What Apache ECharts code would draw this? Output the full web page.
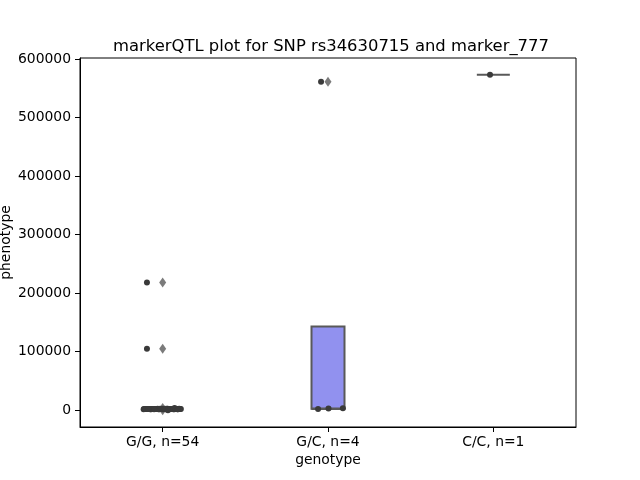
<!DOCTYPE html>
<html>
<head>
<meta charset="utf-8">
<script src="https://cdn.jsdelivr.net/npm/echarts@6/dist/echarts.min.js"></script>
<style>html,body{margin:0;padding:0;background:#fff}#c{width:640px;height:480px}</style>
</head>
<body>
<div id="c"></div>
<script>
const titleText = 'markerQTL plot for SNP rs34630715 and marker_777';
const categories = ['G/G, n=54', 'G/C, n=4', 'C/C, n=1'];
const yTicks = [0, 100000, 200000, 300000, 400000, 500000, 600000];

const valuesGG = [1850,2100,1950,2300,1700,2050,2200,1900,2400,1800,
  2150,2000,2250,1750,2350,1950,2100,2050,1850,2200,
  1650,2450,2000,1900,2300,2150,1800,2050,2250,1950,
  2100,1700,2350,2000,1850,2200,2400,1900,2050,2150,
  1750,2300,2000,2100,1950,2250,2600,1500,120,3900,
  2050,1850,105000,218000];
const jitterGG = [-0.115,-0.10,-0.09,-0.08,-0.07,-0.06,-0.05,-0.04,-0.03,-0.02,
  -0.01,0.0,0.01,0.02,0.03,0.04,0.05,0.06,0.07,0.08,
  0.09,0.10,0.11,-0.112,-0.095,-0.085,-0.075,-0.065,-0.055,-0.045,
  -0.035,-0.025,-0.015,-0.005,0.005,0.015,0.025,0.035,0.045,0.055,
  0.065,0.075,0.085,0.095,0.105,-0.105,0.012,-0.052,0.032,0.072,
  -0.088,0.092,-0.095,-0.095];
const valuesGC = [2000, 2800, 3500, 561000];
const jitterGC = [-0.06, 0.003, 0.09, -0.042];
const valuesCC = [573000];
const jitterCC = [-0.02];

const groups = [valuesGG, valuesGC, valuesCC];
const jitters = [jitterGG, jitterGC, jitterCC];

function quantile(sorted, p) {
  const pos = (sorted.length - 1) * p;
  const lo = Math.floor(pos), hi = Math.ceil(pos);
  return sorted[lo] + (sorted[hi] - sorted[lo]) * (pos - lo);
}
const boxData = [], flierData = [], stripData = [];
groups.forEach((vals, gi) => {
  const s = vals.slice().sort((a, b) => a - b);
  const q1 = quantile(s, 0.25), med = quantile(s, 0.5), q3 = quantile(s, 0.75);
  const iqr = q3 - q1;
  const lf = q1 - 1.5 * iqr, uf = q3 + 1.5 * iqr;
  const inside = s.filter(v => v >= lf && v <= uf);
  const wlo = Math.min(q1, inside.length ? inside[0] : q1);
  const whi = Math.max(q3, inside.length ? inside[inside.length - 1] : q3);
  boxData.push([wlo, q1, med, q3, whi]);
  s.forEach(v => { if (v < lf || v > uf) flierData.push([gi, v]); });
  vals.forEach((v, i) => stripData.push([gi + jitters[gi][i], v]));
});

const font = 'DejaVu Sans';
const chart = echarts.init(document.getElementById('c'));
chart.setOption({
  animation: false,
  backgroundColor: '#fff',
  title: {
    text: titleText, left: 326, top: 34, textAlign: 'center',
    textStyle: { fontFamily: font, fontSize: 16.4, fontWeight: 'normal', color: '#000' }
  },
  grid: { left: 80, right: 64, top: 58, bottom: 53, outerBoundsMode: 'none', containLabel: false,
    show: true, borderColor: '#000', borderWidth: 1, backgroundColor: 'transparent' },
  xAxis: [{
    type: 'category', data: categories, boundaryGap: true,
    name: 'genotype', nameLocation: 'middle', nameGap: 26, nameMoveOverlap: false,
    nameTextStyle: { fontFamily: font, fontSize: 13.9, color: '#000' },
    axisLine: { show: true, onZero: false, lineStyle: { color: '#000', width: 1 } },
    axisTick: { show: true, alignWithLabel: true, length: 5, lineStyle: { color: '#000' } },
    axisLabel: { fontFamily: font, fontSize: 13.9, color: '#000', margin: 8 },
    splitLine: { show: false }
  }, {
    type: 'value', min: -0.5, max: 2.5, show: false, position: 'bottom',
    axisLine: { onZero: false }
  }],
  yAxis: {
    type: 'value', min: -28650, max: 601650,
    name: 'phenotype', nameLocation: 'middle', nameGap: 67, nameMoveOverlap: false,
    nameTextStyle: { fontFamily: font, fontSize: 13.9, color: '#000' },
    axisLine: { show: true, onZero: false, lineStyle: { color: '#000', width: 1 } },
    axisTick: { show: true, length: 5, customValues: yTicks, lineStyle: { color: '#000' } },
    axisLabel: { fontFamily: font, fontSize: 13.9, color: '#000', margin: 9, customValues: yTicks,
      formatter: v => String(v) },
    splitLine: { show: false }
  },
  series: [{
    type: 'boxplot', xAxisIndex: 0, yAxisIndex: 0,
    data: boxData, boxWidth: [33, 33],
    itemStyle: { color: '#9191ef', borderColor: '#595959', borderWidth: 2 },
    emphasis: { disabled: true }, z: 2
  }, {
    type: 'scatter', xAxisIndex: 1, yAxisIndex: 0,
    data: flierData, symbol: 'diamond', symbolSize: [7, 10],
    itemStyle: { color: '#5a5a5a' }, z: 3
  }, {
    type: 'scatter', xAxisIndex: 1, yAxisIndex: 0,
    data: stripData, symbol: 'circle', symbolSize: 6,
    itemStyle: { color: '#3a3a3a', opacity: 1 }, z: 4
  }]
});
</script>
</body>
</html>
